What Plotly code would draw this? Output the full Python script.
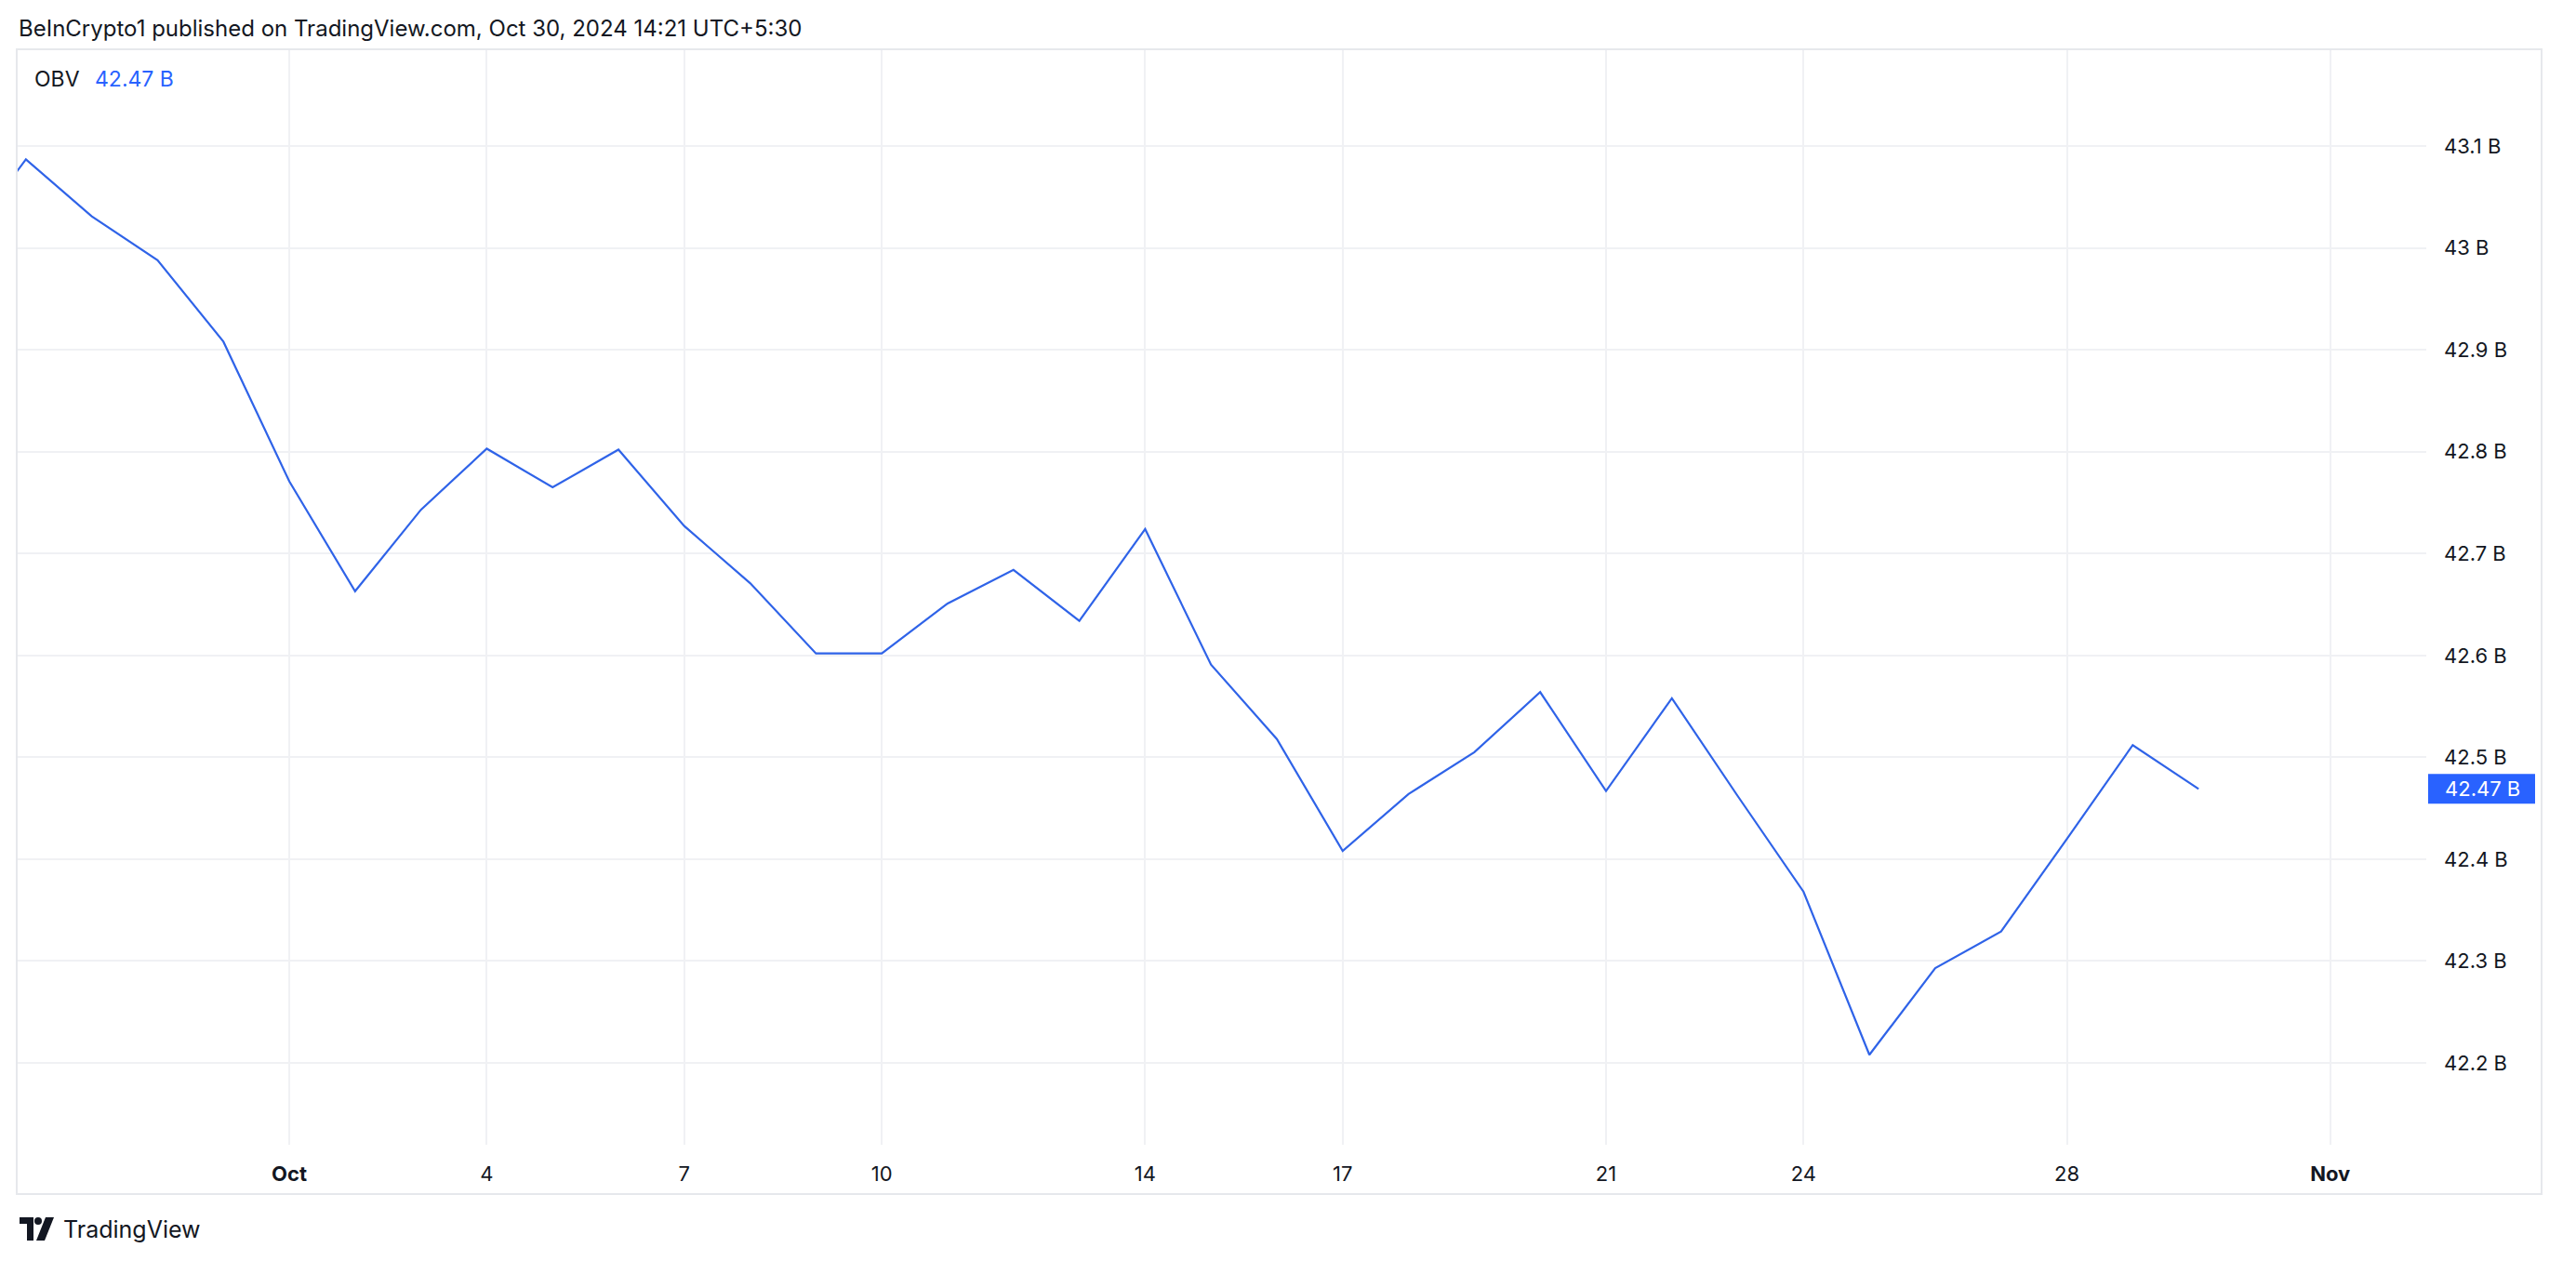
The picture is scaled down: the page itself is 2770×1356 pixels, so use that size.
import plotly.graph_objects as go

# ---------------- data ----------------
dates = [
    "2024-09-26", "2024-09-27", "2024-09-28", "2024-09-29", "2024-09-30",
    "2024-10-01", "2024-10-02", "2024-10-03", "2024-10-04", "2024-10-05",
    "2024-10-06", "2024-10-07", "2024-10-08", "2024-10-09", "2024-10-10",
    "2024-10-11", "2024-10-12", "2024-10-13", "2024-10-14", "2024-10-15",
    "2024-10-16", "2024-10-17", "2024-10-18", "2024-10-19", "2024-10-20",
    "2024-10-21", "2024-10-22", "2024-10-23", "2024-10-24", "2024-10-25",
    "2024-10-26", "2024-10-27", "2024-10-28", "2024-10-29", "2024-10-30",
]
obv_b = [
    43.00, 43.087, 43.031, 42.988, 42.908,
    42.771, 42.663, 42.743, 42.803, 42.765,
    42.802, 42.727, 42.671, 42.602, 42.602,
    42.651, 42.684, 42.634, 42.724, 42.591,
    42.518, 42.408, 42.464, 42.505, 42.564,
    42.467, 42.558, 42.462, 42.368, 42.208,
    42.293, 42.329, 42.420, 42.512, 42.469,
]
x_tick_vals = ["2024-10-01", "2024-10-04", "2024-10-07", "2024-10-10", "2024-10-14",
               "2024-10-17", "2024-10-21", "2024-10-24", "2024-10-28", "2024-11-01"]
x_tick_text = ["<b>Oct</b>", "4", "7", "10", "14", "17", "21", "24", "28", "<b>Nov</b>"]
y_tick_vals = [43.1, 43.0, 42.9, 42.8, 42.7, 42.6, 42.5, 42.4, 42.3, 42.2]
y_tick_text = ["43.1 B", "43 B", "42.9 B", "42.8 B", "42.7 B", "42.6 B", "42.5 B", "42.4 B", "42.3 B", "42.2 B"]
last_label = "42.47 B"
title_text = "BeInCrypto1 published on TradingView.com, Oct 30, 2024 14:21 UTC+5:30"
indicator_name = "OBV"

# ---------------- layout geometry (pixels) ----------------
W, H = 2770, 1356
PL, PR, PT, PB = 19, 2609, 53, 1231   # plot area edges

def px(x):
    return (x - PL) / (PR - PL)

def py(y):
    return (PB - y) / (PB - PT)

BLUE = "#2962FF"
LINE_BLUE = "#2f63e8"
TXT = "#131722"
GRID = "#f0f1f4"
FRAME = "#e6e8ec"
FONT = "Inter"

fig = go.Figure()
fig.add_trace(go.Scatter(
    x=dates, y=obv_b, mode="lines",
    line=dict(color=LINE_BLUE, width=2.2),
    hoverinfo="skip", showlegend=False,
))

fig.update_layout(
    width=W, height=H,
    margin=dict(l=PL, r=W - PR, t=PT, b=H - PB, pad=0),
    paper_bgcolor="white", plot_bgcolor="white",
    font=dict(family=FONT, color=TXT, size=21),
    showlegend=False,
)
fig.update_xaxes(
    range=["2024-09-26 21:00", "2024-11-02 11:00"],
    tickmode="array", tickvals=x_tick_vals, ticktext=x_tick_text,
    showgrid=True, gridcolor=GRID, gridwidth=2,
    zeroline=False, showline=False, ticks="",
    tickfont=dict(size=22, color=TXT, family=FONT),
    ticklabelstandoff=16,
)
fig.update_yaxes(
    range=[42.1197, 43.195], side="right",
    tickmode="array", tickvals=y_tick_vals, ticktext=y_tick_text,
    showgrid=True, gridcolor=GRID, gridwidth=2,
    zeroline=False, showline=False, ticks="",
    tickfont=dict(size=22, color=TXT, family=FONT),
    ticklabelstandoff=18,
)

shapes = []
# outer frame
shapes.append(dict(type="rect", xref="paper", yref="paper",
                   x0=px(18), x1=px(2733), y0=py(1284), y1=py(53),
                   line=dict(color=FRAME, width=2), fillcolor="rgba(0,0,0,0)", layer="above"))
# last value label box
shapes.append(dict(type="rect", xref="paper", yref="y",
                   x0=px(2611), x1=px(2726), y0=obv_b[-1] - 0.0146, y1=obv_b[-1] + 0.0146,
                   line=dict(width=0), fillcolor=BLUE, layer="above"))
# TradingView logo (T, dot, V)
shapes.append(dict(type="path", xref="paper", yref="paper",
                   path=f"M {px(21)} {py(1309)} L {px(36)} {py(1309)} L {px(36)} {py(1334)} "
                        f"L {px(29)} {py(1334)} L {px(29)} {py(1316)} L {px(21)} {py(1316)} Z",
                   line=dict(width=0), fillcolor=TXT))
shapes.append(dict(type="circle", xref="paper", yref="paper",
                   x0=px(37), x1=px(45), y0=py(1317), y1=py(1309),
                   line=dict(width=0), fillcolor=TXT))
shapes.append(dict(type="path", xref="paper", yref="paper",
                   path=f"M {px(49)} {py(1309)} L {px(58)} {py(1309)} L {px(48)} {py(1334)} "
                        f"L {px(39)} {py(1334)} Z",
                   line=dict(width=0), fillcolor=TXT))

annotations = [
    dict(text=title_text, xref="paper", yref="paper", x=px(18), y=py(31),
         xanchor="left", yanchor="middle", showarrow=False,
         font=dict(size=24, color=TXT, family=FONT)),
    dict(text=indicator_name, xref="paper", yref="paper", x=px(35), y=py(85),
         xanchor="left", yanchor="middle", showarrow=False,
         font=dict(size=23, color=TXT, family=FONT)),
    dict(text=last_label, xref="paper", yref="paper", x=px(100), y=py(85),
         xanchor="left", yanchor="middle", showarrow=False,
         font=dict(size=23, color=BLUE, family=FONT)),
    dict(text=last_label, xref="paper", yref="y", x=px(2627), y=obv_b[-1],
         xanchor="left", yanchor="middle", showarrow=False,
         font=dict(size=22, color="white", family=FONT)),
    dict(text="TradingView", xref="paper", yref="paper", x=px(66), y=py(1322),
         xanchor="left", yanchor="middle", showarrow=False,
         font=dict(size=25, color=TXT, family=FONT)),
]

fig.update_layout(shapes=shapes, annotations=annotations)

fig.write_html("out.html", config={"displayModeBar": False},
               post_script="document.body.style.margin='0';")
